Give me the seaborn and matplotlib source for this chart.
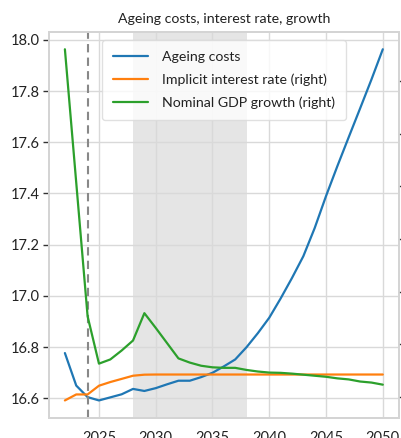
import matplotlib
matplotlib.use("Agg")
import matplotlib.pyplot as plt
import seaborn as sns
import pandas as pd

years = list(range(2022, 2051))
ageing_costs = [16.777, 16.650, 16.605, 16.592, 16.604, 16.616, 16.637, 16.629, 16.640,
                16.655, 16.669, 16.669, 16.683, 16.700, 16.725, 16.752, 16.800, 16.855,
                16.915, 16.990, 17.070, 17.155, 17.265, 17.390, 17.507, 17.620, 17.732,
                17.845, 17.963]
interest_rate = [1.93, 2.044, 2.044, 2.21, 2.28, 2.34, 2.40, 2.42, 2.423,
                 2.423, 2.423, 2.423, 2.423, 2.423, 2.423, 2.423, 2.423, 2.423,
                 2.423, 2.423, 2.423, 2.423, 2.423, 2.423, 2.423, 2.423, 2.423,
                 2.423, 2.423]
gdp_growth = [8.61, 6.07, 3.53, 2.63, 2.71, 2.88, 3.07, 3.59, 3.31,
              3.02, 2.73, 2.65, 2.59, 2.56, 2.55, 2.55, 2.51, 2.48,
              2.46, 2.455, 2.44, 2.42, 2.40, 2.38, 2.35, 2.33, 2.29,
              2.27, 2.23]
right_ticks = [2, 3, 4, 5, 6, 7, 8]
left_ticks = [16.6, 16.8, 17.0, 17.2, 17.4, 17.6, 17.8, 18.0]
x_ticks = [2025, 2030, 2035, 2040, 2045, 2050]
title = "Ageing costs, interest rate, growth"
labels = ["Ageing costs", "Implicit interest rate (right)", "Nominal GDP growth (right)"]
shade = (2028, 2038)
vline_year = 2024

df = pd.DataFrame({"year": years, "ageing": ageing_costs,
                   "rate": interest_rate, "gdp": gdp_growth})

sns.set_theme(style="whitegrid")
plt.rcParams["font.family"] = ["Lato", "DejaVu Sans"]
plt.rcParams["axes.edgecolor"] = "#d4d4d4"
plt.rcParams["grid.color"] = "#d9d9d9"

fig = plt.figure(figsize=(4.01, 4.38), dpi=100)
W, H = 401, 438
ax = fig.add_axes([49 / W, (H - 418) / H, (398.7 - 49) / W, (418 - 31.7) / H])

sns.lineplot(data=df, x="year", y="ageing", ax=ax, color="#1f77b4",
             linewidth=1.6, label=labels[0], legend=False)
ax.axvspan(shade[0], shade[1], color="#808080", alpha=0.2, lw=0, zorder=0.5)
ax.axvline(vline_year, color="#888888", linestyle="--", linewidth=1.5, dashes=(4, 2.5))

ax2 = ax.twinx()
sns.lineplot(data=df, x="year", y="rate", ax=ax2, color="#ff7f0e",
             linewidth=1.6, label=labels[1], legend=False)
sns.lineplot(data=df, x="year", y="gdp", ax=ax2, color="#2ca02c",
             linewidth=1.6, label=labels[2], legend=False)
ax2.grid(False)
ax2.set_yticks(right_ticks)
ax2.set_yticklabels([""] * len(right_ticks))
ax2.tick_params(axis="y", length=4, width=1, color="#333333", right=True)

ax.set_xticks(x_ticks)
ax.set_yticks(left_ticks)
ax.set_yticklabels([f"{v:.1f}" for v in left_ticks])
ax.tick_params(axis="y", left=True, length=4, width=1, color="#333333",
               labelsize=10.5, labelcolor="#222222", pad=3)
ax.tick_params(axis="x", bottom=False, labelsize=10.5, labelcolor="#222222")
ax.set_xlabel("")
ax.set_ylabel("")
ax2.set_ylabel("")
ax.set_title(title, fontsize=10.2, color="#222222", pad=6)

h1, lab1 = ax.get_legend_handles_labels()
h2, lab2 = ax2.get_legend_handles_labels()
leg = ax2.legend(h1 + h2, lab1 + lab2, loc="upper center", fontsize=10.2,
                 handlelength=2.5, handletextpad=1.0, labelspacing=0.75,
                 borderpad=0.75, borderaxespad=0.6, frameon=True)
leg.get_frame().set_edgecolor("#d9d9d9")
for t in leg.get_texts():
    t.set_color("#222222")

fig.savefig("out.png", dpi=100)
